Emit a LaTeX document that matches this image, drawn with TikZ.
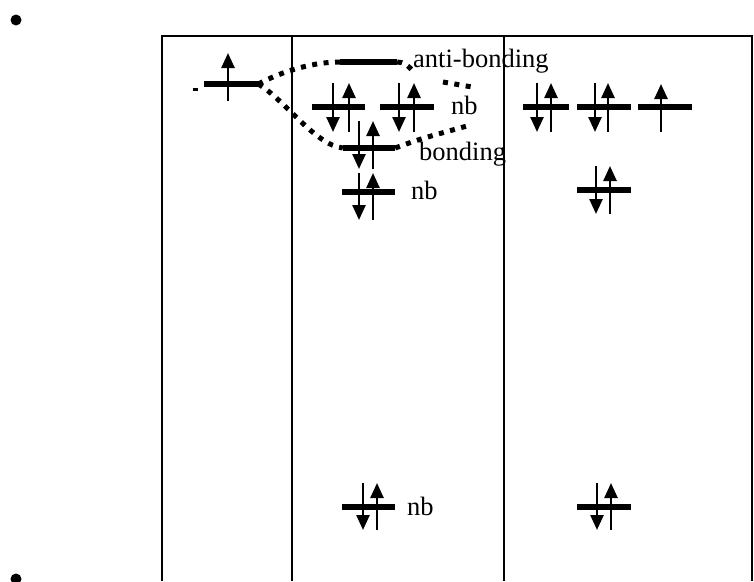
\documentclass[tikz,border=0pt]{standalone}
\usepackage{fontspec}
\setmainfont{Liberation Serif}
\usetikzlibrary{arrows.meta}
\newcommand\pairspin[4]{%
  \draw[spin] (#1,#3) -- (#1,#4);
  \draw[spin] (#2,#4) -- (#2,#3);}
\begin{document}
\begin{tikzpicture}[x=1pt,y=-1pt,
  orb/.style={fill=black,inner sep=0pt,minimum height=5.5pt,minimum width=#1},
  spin/.style={line width=2.5pt,-{Triangle[length=15pt,width=13pt]}},
  conn/.style={line width=5pt,dash pattern=on 5pt off 6.5pt},
  frame/.style={line width=1.5pt},
  lbl/.style={anchor=base west,inner sep=0pt,font=\fontsize{26.5}{30}\selectfont},
  bul/.style={circle,fill=black,inner sep=0pt,minimum size=11pt}]
\useasboundingbox (0,0) rectangle (754,581);
\clip (0,0) rectangle (754,581);
% frame
\draw[frame] (162,581) -- (162,36) -- (752,36) -- (752,581);
\draw[frame] (292,36) -- (292,581);
\draw[frame] (504,36) -- (504,581);
% bullets
\node[bul] (b1) at (16,20) {};
\node[bul] (b2) at (16,579) {};
% levels
\node[orb=54pt] (A) at (231,84) {};
\node[orb=57pt] (ab) at (368.5,62) {};
\node[orb=53pt] (nb1) at (338.5,107) {};
\node[orb=54pt] (nb2) at (407,107) {};
\node[orb=52pt] (bd) at (369,148) {};
\node[orb=53pt] (nb3) at (368.5,192) {};
\node[orb=53pt] (nb4) at (368.5,507) {};
\node[orb=46pt] (r1) at (546,107) {};
\node[orb=54pt] (r2) at (604,107) {};
\node[orb=54pt] (r3) at (665,107) {};
\node[orb=54pt] (r4) at (604,190) {};
\node[orb=54pt] (r5) at (604,507) {};
% small dash
\draw[line width=3pt] (193,89) -- (198,89);
% spins
\draw[spin] (228,101) -- (228,53);
\pairspin{333}{349}{83}{132}
\pairspin{399}{414}{83}{132}
\pairspin{359}{373}{121}{169}
\pairspin{359}{373}{173}{220}
\pairspin{363}{377}{483}{530}
\pairspin{537}{551}{83}{132}
\pairspin{595}{608}{83}{132}
\draw[spin] (661,132) -- (661,84);
\pairspin{596}{610}{166}{214}
\pairspin{597}{611}{483}{530}
% connectors
\draw[conn] (A.east) .. controls (285,70) and (315,62) .. (ab.west);
\draw[conn] (A.east) .. controls (285,100) and (315,145) .. (bd.west);
\coordinate (c1) at (412,70);
\coordinate (c2) at (443,82);
\coordinate (c3) at (472,87);
\coordinate (c4) at (467,126);
\draw[conn] (ab.east) .. controls (405,63) .. (c1);
\draw[conn] (c2) .. controls (457,84) .. (c3);
\draw[conn] (bd.east) .. controls (420,139) .. (c4);
% labels
\node[lbl] (t1) at (413,67) {anti-bonding};
\node[lbl] (t2) at (451,114) {nb};
\node[lbl] (t3) at (419,160) {bonding};
\node[lbl] (t4) at (411,199) {nb};
\node[lbl] (t5) at (407,515) {nb};
\end{tikzpicture}
\end{document}
